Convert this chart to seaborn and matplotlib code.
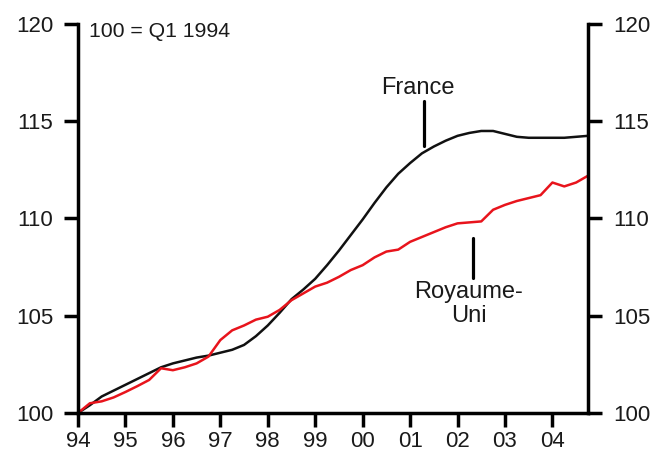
import matplotlib
matplotlib.use("Agg")
import matplotlib.pyplot as plt
import seaborn as sns
import numpy as np
import pandas as pd

# Quarterly index, 100 = Q1 1994 (Q1 1994 .. Q4 2004)
quarters = [94 + 0.25 * i for i in range(44)]
france = [100.0, 100.4, 100.85, 101.15, 101.45, 101.75, 102.05, 102.35,
          102.55, 102.7, 102.85, 102.95, 103.1, 103.25, 103.5, 103.95,
          104.5, 105.15, 105.85, 106.35, 106.9, 107.6, 108.35, 109.15,
          109.95, 110.8, 111.6, 112.3, 112.85, 113.35, 113.7, 114.0,
          114.25, 114.4, 114.5, 114.5, 114.35, 114.2, 114.15, 114.15,
          114.15, 114.15, 114.2, 114.25]
uk = [100.0, 100.5, 100.6, 100.8, 101.08, 101.38, 101.7, 102.3,
      102.2, 102.35, 102.55, 102.9, 103.75, 104.25, 104.5, 104.8,
      104.95, 105.3, 105.8, 106.15, 106.5, 106.7, 107.0, 107.35,
      107.6, 108.0, 108.3, 108.4, 108.8, 109.05, 109.3, 109.55,
      109.75, 109.8, 109.85, 110.45, 110.7, 110.9, 111.05, 111.2,
      111.85, 111.65, 111.85, 112.2]
xtick_labels = ["94", "95", "96", "97", "98", "99", "00", "01", "02", "03", "04"]
yticks = [100, 105, 110, 115, 120]

df = pd.DataFrame({"q": quarters * 2,
                   "v": france + uk,
                   "pays": ["France"] * 44 + ["Royaume-Uni"] * 44})

sns.set_style("white")
plt.rcParams["font.family"] = ["Liberation Sans", "DejaVu Sans"]
txt = "#1a1a1a"

fig = plt.figure(figsize=(6.56, 4.53), dpi=100)
ax = fig.add_axes([78 / 656, 1 - 413 / 453, (588 - 78) / 656, (413 - 24) / 453])

sns.lineplot(data=df, x="q", y="v", hue="pays",
             palette={"France": "#111111", "Royaume-Uni": "#e8141c"},
             linewidth=1.8, ax=ax, legend=False)

ax.set_xlim(94, 104.75)
ax.set_ylim(100, 120)
ax.set_xticks(range(94, 105))
ax.set_xticklabels(xtick_labels)
ax.set_yticks(yticks)
ax.set_xlabel("")
ax.set_ylabel("")

ax.spines["top"].set_visible(False)
for s in ["left", "right", "bottom"]:
    ax.spines[s].set_visible(True)
    ax.spines[s].set_linewidth(2.5)
    ax.spines[s].set_color("black")

ax.tick_params(axis="both", which="major", direction="out", length=10,
               width=2.5, color="black", labelsize=16, labelcolor=txt)
ax.tick_params(axis="y", left=True, right=True, labelleft=True,
               labelright=True, pad=8)
ax.tick_params(axis="x", bottom=True, pad=3)

ax.text(94.23, 119.6, "100 = Q1 1994", fontsize=15.3, color=txt,
        ha="left", va="center")

# France label
ax.text(101.17, 116.7, "France", fontsize=17, color=txt,
        ha="center", va="center")
ax.plot([101.3, 101.3], [116.05, 113.75], color="black", lw=2.3)

# Royaume-Uni label
ax.text(102.23, 105.6, "Royaume-\nUni", fontsize=17, color=txt,
        ha="center", va="center", linespacing=1.15)
ax.plot([102.33, 102.33], [109.0, 106.95], color="black", lw=2.3)

fig.savefig("out.png", dpi=100)
